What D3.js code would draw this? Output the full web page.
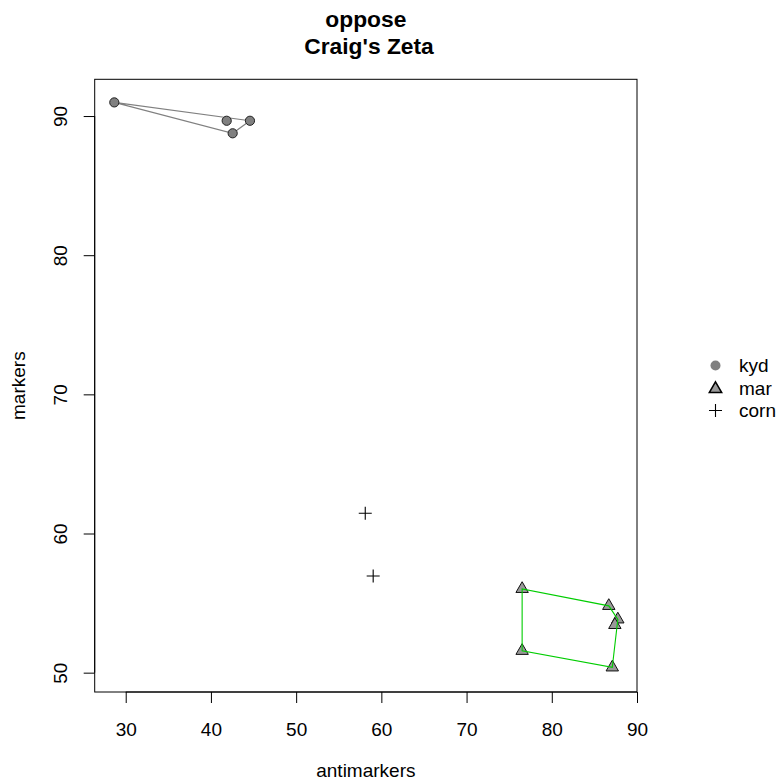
<!DOCTYPE html>
<html>
<head>
<meta charset="utf-8">
<script src="https://cdn.jsdelivr.net/npm/d3@7"></script>
<style>
  html, body { margin: 0; padding: 0; background: #fff; }
  svg text { font-family: "Liberation Sans", Arial, sans-serif; }
</style>
</head>
<body>
<div id="chart"></div>
<script>
// ---- data ----
const kydX = [28.66, 41.85, 44.58, 42.55];
const kydY = [90.98, 89.66, 89.66, 88.76];
const marX = [76.52, 86.69, 87.75, 87.40, 76.52, 87.10];
const marY = [56.02, 54.80, 53.83, 53.43, 51.57, 50.38];
const cornX = [58.11, 59.04];
const cornY = [61.46, 56.95];
const xTicks = [30, 40, 50, 60, 70, 80, 90];
const yTicks = [50, 60, 70, 80, 90];
const legendLabels = ["kyd", "mar", "corn"];
const titleLines = ["oppose", " Craig's Zeta"];
const xLabel = "antimarkers";
const yLabel = "markers";

// ---- layout ----
const W = 777, H = 780;
const box = { left: 94.7, right: 637, top: 79.3, bottom: 692 };
const fs = 19;

const svg = d3.select("#chart").append("svg")
  .attr("width", W).attr("height", H);

const x = d3.scaleLinear().domain([26.36, 90]).range([box.left, box.right]);
const y = d3.scaleLinear().domain([48.61, 92.64]).range([box.bottom, box.top]);

// box
svg.append("rect")
  .attr("x", box.left).attr("y", box.top)
  .attr("width", box.right - box.left).attr("height", box.bottom - box.top)
  .attr("fill", "none").attr("stroke", "#000").attr("stroke-width", 1);

// axes
const xAxis = svg.append("g")
  .attr("transform", `translate(0,${box.bottom})`)
  .call(d3.axisBottom(x).tickValues(xTicks).tickSize(11).tickPadding(0).tickFormat(d3.format("d")));
xAxis.select(".domain").attr("d", `M${x(xTicks[0])},0H${x(xTicks[xTicks.length-1])}`);
xAxis.selectAll("text").attr("y", null).attr("dy", null)
  .attr("transform", "translate(0,43.8)")
  .style("font-size", fs + "px").attr("fill", "#000");

const yAxis = svg.append("g")
  .attr("transform", `translate(${box.left},0)`)
  .call(d3.axisLeft(y).tickValues(yTicks).tickSize(11).tickPadding(0).tickFormat(d3.format("d")));
yAxis.select(".domain").attr("d", `M0,${y(yTicks[0])}V${y(yTicks[yTicks.length-1])}`);
yAxis.selectAll(".tick text")
  .attr("x", null).attr("dy", null)
  .attr("text-anchor", "middle")
  .attr("transform", `translate(${66.8 - box.left},0) rotate(-90)`)
  .attr("y", 0)
  .style("font-size", fs + "px").attr("fill", "#000");

// axis titles
svg.append("text").attr("x", (box.left + box.right) / 2).attr("y", 777)
  .attr("text-anchor", "middle").style("font-size", fs + "px").text(xLabel);
svg.append("text").attr("transform", `translate(24.5,${(box.top + box.bottom) / 2}) rotate(-90)`)
  .attr("text-anchor", "middle").style("font-size", fs + "px").text(yLabel);

// title
const tcx = (box.left + box.right) / 2;
titleLines.forEach((t, i) => {
  svg.append("text").attr("x", tcx).attr("y", 26.7 + i * 27.6)
    .attr("text-anchor", "middle").style("font-size", (fs * 1.2) + "px").style("font-weight", "bold")
    .style("white-space", "pre").attr("xml:space", "preserve").text(t);
});

// helpers
const rC = 4.6;
function triPath(cx, cy, r) {
  const hw = 1.3468 * r, up = 1.5551 * r, dn = 0.7776 * r;
  return `M${cx},${cy - up}L${cx + hw},${cy + dn}L${cx - hw},${cy + dn}Z`;
}
function crossPath(cx, cy, r) {
  const h = Math.SQRT2 * r;
  return `M${cx - h},${cy}H${cx + h}M${cx},${cy - h}V${cy + h}`;
}

// kyd
const kydPts = kydX.map((v, i) => [x(v), y(kydY[i])]);
const kydHull = d3.polygonHull(kydPts);
svg.append("path").attr("d", "M" + kydHull.join("L") + "Z")
  .attr("fill", "none").attr("stroke", "#808080").attr("stroke-width", 1.1);
svg.append("g").selectAll("circle").data(kydPts).join("circle")
  .attr("cx", d => d[0]).attr("cy", d => d[1]).attr("r", rC)
  .attr("fill", "#808080").attr("stroke", "#222").attr("stroke-width", 1);

// mar
const marPts = marX.map((v, i) => [x(v), y(marY[i])]);
const marHull = d3.polygonHull(marPts);
svg.append("g").selectAll("path").data(marPts).join("path")
  .attr("d", d => triPath(d[0], d[1], rC))
  .attr("fill", "#999999").attr("stroke", "#111").attr("stroke-width", 1);
svg.append("path").attr("d", "M" + marHull.join("L") + "Z")
  .attr("fill", "none").attr("stroke", "#00cd00").attr("stroke-width", 1.1);

// corn
const cornPts = cornX.map((v, i) => [x(v), y(cornY[i])]);
svg.append("g").selectAll("path").data(cornPts).join("path")
  .attr("d", d => crossPath(d[0], d[1], rC))
  .attr("fill", "none").attr("stroke", "#000").attr("stroke-width", 1.1);

// legend
const lg = svg.append("g");
const lgX = 715.5, lgTextX = 739, lgY0 = 365.5, lgDy = 22.5;
lg.append("circle").attr("cx", lgX).attr("cy", lgY0).attr("r", 5).attr("fill", "#808080");
lg.append("path").attr("d", triPath(lgX, lgY0 + lgDy + 1, rC))
  .attr("fill", "#999999").attr("stroke", "#000").attr("stroke-width", 1.5);
lg.append("path").attr("d", crossPath(lgX, lgY0 + 2 * lgDy, rC))
  .attr("fill", "none").attr("stroke", "#000").attr("stroke-width", 1.1);
legendLabels.forEach((t, i) => {
  lg.append("text").attr("x", lgTextX).attr("y", lgY0 + i * lgDy + 6.5)
    .style("font-size", fs + "px").text(t);
});
</script>
</body>
</html>
